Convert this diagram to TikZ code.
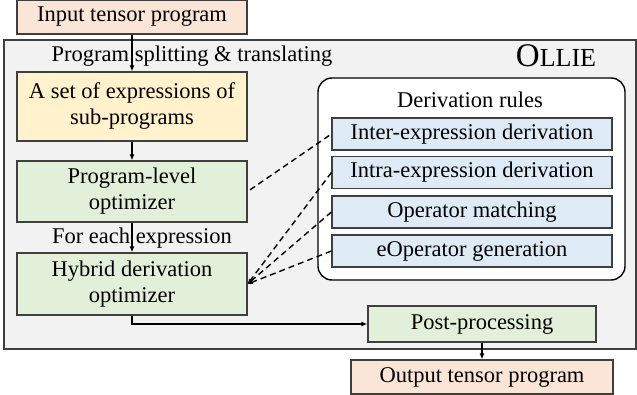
\documentclass[tikz,border=0pt]{standalone}
\usepackage{fontspec}
\setmainfont{Liberation Serif}
\usetikzlibrary{positioning}
\usetikzlibrary{arrows.meta}
\definecolor{inputfill}{HTML}{FBE5D6}
\definecolor{exprfill}{HTML}{FFF2CC}
\definecolor{optfill}{HTML}{E2F0D9}
\definecolor{rulefill}{HTML}{DEEBF7}
\definecolor{framefill}{HTML}{F2F2F2}
\definecolor{edge}{HTML}{3F3F3F}
\tikzset{box/.style = {draw=edge, line width=1.2pt, inner sep=0, align=center}}
\tikzset{stage/.style = {box, minimum width=230, minimum height=62}}
\tikzset{rule/.style = {box, fill=rulefill, minimum width=280, minimum height=32}}
\tikzset{flow/.style = {line width=1.2pt, -{Latex[length=6pt,width=5pt]}}}
\tikzset{hint/.style = {line width=1.4pt, dash pattern=on 6pt off 4pt}}

\begin{document}
\begin{tikzpicture}[x=1pt, y=-1pt, font=\fontsize{22.5}{26}\selectfont]
      \useasboundingbox (0,0) rectangle (637,395);
      \draw[edge, fill=framefill, line width=1.2pt] (4,40) rectangle (636,349);
      \draw[black, fill=white, line width=1.4pt, rounded corners=14] (318,78) rectangle (625,280);

      \node[box, fill=inputfill, minimum width=230, minimum height=34] (input) at (132,17) {Input tensor program};
      \node (split) at (192,56) {Program splitting \& translating};
      \node[anchor=base] (ollie) at (556,67) {{\fontsize{33}{33}\selectfont O}{\fontsize{26}{26}\selectfont LLIE}};
      \node[stage, fill=exprfill, minimum height=69] (exprs) at (132,106.5) {A set of expressions of\\sub-programs};
      \node[stage, fill=optfill, minimum height=61] (plevel) at (132,191.5) {Program-level\\optimizer};
      \node (each) at (142,238) {For each expression};
      \node[stage, fill=optfill] (hybrid) at (132,284) {Hybrid derivation\\optimizer};
      \node[box, fill=optfill, minimum width=228, minimum height=36] (post) at (482,324) {Post-processing};
      \node[box, fill=inputfill, minimum width=262, minimum height=34] (output) at (482,377) {Output tensor program};

      \node (rules) at (470,100) {Derivation rules};
      \node[rule] (inter) at (472,134) {Inter-expression derivation};
      \node[rule] (intra) at (472,172.5) {Intra-expression derivation};
      \node[rule] (opmatch) at (472,212) {Operator matching};
      \node[rule] (eopgen) at (472,251) {eOperator generation};

      \draw[flow] (input) -- (exprs);
      \draw[flow] (exprs) -- (plevel);
      \draw[flow] (plevel) -- (hybrid);
      \draw[flow] (hybrid.south) |- (post.west);
      \draw[flow] (post) -- (output);

      \draw[hint, shorten <=3pt] (plevel.east) -- (inter.west);
      \foreach \r in {intra, opmatch, eopgen}
        \draw[hint, -{Latex[length=5pt,width=4pt]}] (\r.west) -- (hybrid.east);
    \end{tikzpicture}
\end{document}
